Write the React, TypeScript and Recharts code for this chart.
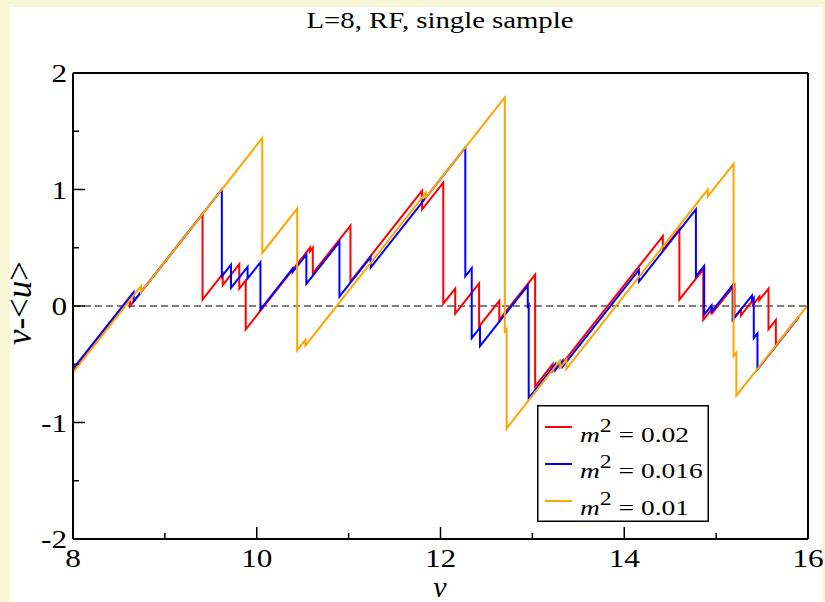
import React from 'react';
import { LineChart, Line, XAxis, YAxis, ReferenceLine } from 'recharts';

const W = 825;
const H = 602;
const FONT = 'Liberation Serif, Times New Roman, Times, Nimbus Roman, serif';
// the source figure is stretched sideways, so text gets a horizontal scale
const SX = 1.25;

const xTicks = [8, 9, 10, 11, 12, 13, 14, 15, 16];
const xLabels = [8, 10, 12, 14, 16];
const yTicks = [-2, -1.5, -1, -0.5, 0, 0.5, 1, 1.5, 2];
const yLabels = [-2, -1, 0, 1, 2];

type Pt = [number, number];

// m^2 = 0.02
const redPts: Pt[] = [
  [8.0, -0.55], [8.62, 0.07], [8.62, 0.0], [9.41, 0.79], [9.41, 0.055],
  [9.63, 0.275], [9.63, 0.18], [9.81, 0.36], [9.81, 0.15], [9.88, 0.22],
  [9.88, -0.2], [10.58, 0.5], [10.58, 0.47], [10.61, 0.5], [10.61, 0.28],
  [11.02, 0.69], [11.02, 0.21], [11.8, 0.99], [11.8, 0.83], [12.03, 1.06],
  [12.03, 0.02], [12.16, 0.15], [12.16, -0.065], [12.42, 0.195], [12.42, -0.175],
  [12.64, 0.045], [12.64, -0.12], [13.03, 0.27], [13.03, -0.69], [13.22, -0.5],
  [13.22, -0.56], [13.3, -0.48], [13.3, -0.52], [14.42, 0.6], [14.42, 0.48],
  [14.6, 0.66], [14.6, 0.055], [14.86, 0.315], [14.86, -0.12], [14.96, -0.02],
  [14.96, -0.06], [15.2, 0.18], [15.2, -0.1], [15.27, -0.03], [15.27, -0.08],
  [15.4, 0.05], [15.4, 0.01], [15.47, 0.08], [15.47, 0.05], [15.57, 0.15],
  [15.57, -0.2], [15.65, -0.12], [15.65, -0.34], [15.9, -0.09],
];

// m^2 = 0.016
const bluePts: Pt[] = [
  [8.0, -0.54], [8.66, 0.12], [8.66, 0.04], [9.62, 1.0], [9.62, 0.255],
  [9.72, 0.355], [9.72, 0.155], [9.9, 0.335], [9.9, 0.235], [10.04, 0.375],
  [10.04, -0.03], [10.39, 0.32], [10.39, 0.29], [10.54, 0.44], [10.54, 0.19],
  [10.9, 0.55], [10.9, 0.08], [11.24, 0.42], [11.24, 0.33], [12.27, 1.36],
  [12.27, 0.255], [12.34, 0.325], [12.34, -0.275], [12.43, -0.185], [12.43, -0.345],
  [12.95, 0.175], [12.95, 0.0], [12.96, 0.01], [12.96, -0.79], [13.25, -0.5],
  [13.25, -0.55], [13.33, -0.47], [13.33, -0.52], [14.16, 0.31], [14.16, 0.21],
  [14.78, 0.83], [14.78, 0.255], [14.87, 0.345], [14.87, -0.075], [14.95, 0.005],
  [14.95, -0.05], [15.18, 0.18], [15.18, -0.12], [15.39, 0.09], [15.39, 0.05],
  [15.41, 0.07], [15.41, -0.275], [15.45, -0.235], [15.45, -0.545], [15.9, -0.095],
];

// m^2 = 0.01
const orangePts: Pt[] = [
  [8.0, -0.57], [8.74, 0.17], [8.74, 0.12], [10.06, 1.44], [10.06, 0.455],
  [10.44, 0.835], [10.44, -0.38], [10.53, -0.29], [10.53, -0.34], [11.84, 0.97],
  [11.84, 0.93], [12.7, 1.79], [12.7, -0.22], [12.72, -0.2], [12.72, -1.05],
  [13.3, -0.47], [13.3, -0.53], [13.37, -0.46], [13.37, -0.54], [14.91, 1.0],
  [14.91, 0.94], [15.19, 1.22], [15.19, -0.43], [15.22, -0.4], [15.22, -0.77],
  [16.0, 0.01],
];

const series = [
  { name: '0.02', color: '#ff0000', pts: redPts },
  { name: '0.016', color: '#0000ff', pts: bluePts },
  { name: '0.01', color: '#ffa500', pts: orangePts },
];

const toRows = (pts: Pt[]) => pts.map(([x, y]) => ({ x, y }));

const MAJOR = 12;
const MINOR = 6;

const BottomTick = ({ x, y, payload }: any) => {
  const v = payload.value;
  const major = xLabels.includes(v);
  return (
    <g>
      <line x1={x} y1={y} x2={x} y2={y - (major ? MAJOR : MINOR)} stroke="#000" strokeWidth={1.5} />
      {major && (
        <text transform={`translate(${x},${y + 28}) scale(${SX},1)`} textAnchor="middle"
          fontFamily={FONT} fontSize={25} fill="#000">{v}</text>
      )}
    </g>
  );
};

const TopTick = ({ x, y, payload }: any) => {
  const major = xLabels.includes(payload.value);
  return <line x1={x} y1={y} x2={x} y2={y + (major ? MAJOR : MINOR)} stroke="#000" strokeWidth={1.5} />;
};

const LeftTick = ({ x, y, payload }: any) => {
  const v = payload.value;
  const major = yLabels.includes(v);
  return (
    <g>
      <line x1={x} y1={y} x2={x + (major ? MAJOR : MINOR)} y2={y} stroke="#000" strokeWidth={1.5} />
      {major && (
        <text transform={`translate(${x - 6},${y + 9}) scale(${SX},1)`} textAnchor="end"
          fontFamily={FONT} fontSize={25} fill="#000">{v}</text>
      )}
    </g>
  );
};

const RightTick = ({ x, y, payload }: any) => {
  const major = yLabels.includes(payload.value);
  return <line x1={x} y1={y} x2={x - (major ? MAJOR : MINOR)} y2={y} stroke="#000" strokeWidth={1.5} />;
};

const axisLine = { stroke: '#000', strokeWidth: 2 };

const LegendBox = () => (
  <div style={{ position: 'absolute', left: 537, top: 405, width: 172, height: 117 }}>
    <svg width={172} height={117}>
      <rect x={0.75} y={0.75} width={170.5} height={115.5} fill="#fff" stroke="#000" strokeWidth={1.5} />
      {series.map((s, i) => (
        <g key={s.name}>
          <line x1={8} x2={35} y1={22 + i * 37} y2={22 + i * 37} stroke={s.color} strokeWidth={2} />
          <text transform={`translate(43,${36.5 + i * 36.5}) scale(${SX},1)`}
            fontFamily={FONT} fontSize={22} fill="#000">
            <tspan fontStyle="italic">m</tspan>
            <tspan dy={-10} fontSize={19}>2</tspan>
            <tspan dy={10}>{` = ${s.name}`}</tspan>
          </text>
        </g>
      ))}
    </svg>
  </div>
);

export default function App() {
  return (
    <div style={{ position: 'absolute', left: 0, top: 0, width: W, height: H, background: '#f8f7d8', overflow: 'hidden' }}>
      <div style={{ position: 'absolute', left: 10, top: 7, width: 812, height: 595, background: '#fff' }} />
      <div style={{ position: 'absolute', left: 0, top: 0 }}>
        <LineChart width={W} height={H} margin={{ top: 72, right: 16, bottom: 62, left: 72 }}>
          <XAxis type="number" dataKey="x" domain={[8, 16]} ticks={xTicks} interval={0} height={1}
            allowDataOverflow tickLine={false} tickSize={0} tickMargin={0} axisLine={axisLine} tick={BottomTick} />
          <XAxis xAxisId="top" orientation="top" type="number" domain={[8, 16]} ticks={xTicks} interval={0}
            height={1} tickLine={false} tickSize={0} tickMargin={0} axisLine={axisLine} tick={TopTick} />
          <YAxis type="number" domain={[-2, 2]} ticks={yTicks} interval={0} width={1} allowDataOverflow
            tickLine={false} tickSize={0} tickMargin={0} axisLine={axisLine} tick={LeftTick} />
          <YAxis yAxisId="right" orientation="right" type="number" domain={[-2, 2]} ticks={yTicks} interval={0}
            width={1} tickLine={false} tickSize={0} tickMargin={0} axisLine={axisLine} tick={RightTick} />
          <ReferenceLine y={0} stroke="#000" strokeWidth={1.2} strokeDasharray="7 4" />
          {series.map((s) => (
            <Line key={s.name} data={toRows(s.pts)} dataKey="y" type="linear" stroke={s.color}
              strokeWidth={2} dot={false} activeDot={false} isAnimationActive={false} />
          ))}
        </LineChart>
      </div>
      <svg style={{ position: 'absolute', left: 0, top: 0, pointerEvents: 'none' }} width={W} height={H}>
        <text transform={`translate(440,28) scale(${SX},1)`} textAnchor="middle" fontFamily={FONT} fontSize={23} fill="#000">
          L=8, RF, single sample
        </text>
        <text transform="translate(440,597)" textAnchor="middle" fontFamily={FONT} fontSize={30} fontStyle="italic" fill="#000">
          ν
        </text>
        <text transform="translate(31,303) rotate(-90)" textAnchor="middle" fontFamily={FONT} fontSize={35} fill="#000">
          <tspan fontStyle="italic">ν</tspan>
          <tspan>-&lt;</tspan>
          <tspan fontStyle="italic">u</tspan>
          <tspan>&gt;</tspan>
        </text>
      </svg>
      <LegendBox />
    </div>
  );
}
